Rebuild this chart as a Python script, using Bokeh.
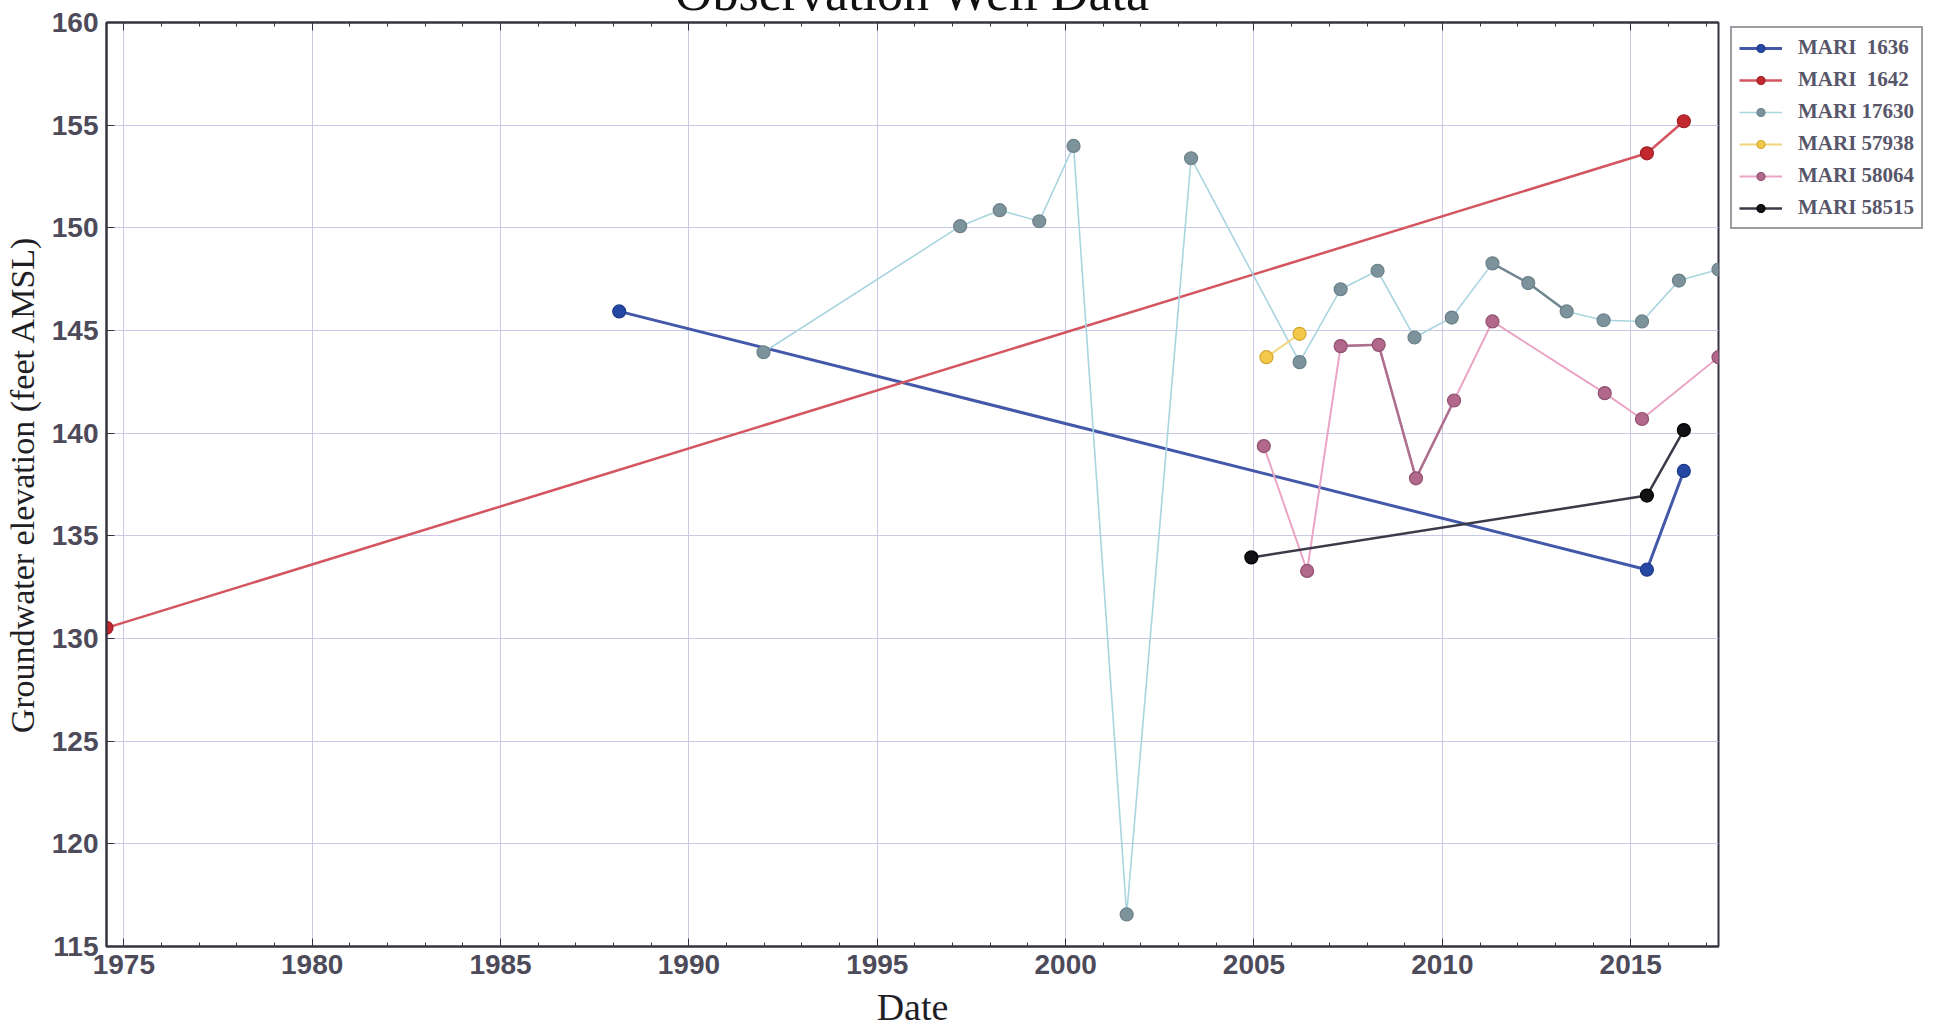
from bokeh.plotting import figure
from bokeh.models import (Range1d, FixedTicker, LinearAxis, Legend, LegendItem, Div,
                          CustomJSTickFormatter)
from bokeh.layouts import column
from bokeh.embed import file_html
from bokeh.resources import INLINE

# ---- data (decimal year, feet AMSL) ----
x_1636 = [1988.15, 2015.43, 2016.41]
y_1636 = [145.93, 133.35, 138.16]

x_1642 = [1974.54, 2015.43, 2016.41]
y_1642 = [130.52, 153.63, 155.19]

x_17630 = [1991.98, 1997.20, 1998.25, 1999.30, 2000.21, 2001.62, 2003.33, 2006.21,
           2007.30, 2008.28, 2009.26, 2010.25, 2011.33, 2012.28, 2013.30, 2014.28,
           2015.30, 2016.28, 2017.33]
y_17630 = [143.94, 150.08, 150.86, 150.32, 153.99, 116.56, 153.39, 143.46,
           147.01, 147.91, 144.66, 145.63, 148.27, 147.31, 145.93, 145.50,
           145.44, 147.43, 147.97]

x_57938 = [2005.33, 2006.21]
y_57938 = [143.70, 144.84]

x_58064 = [2005.26, 2006.41, 2007.30, 2008.31, 2009.30, 2010.31, 2011.33, 2014.31, 2015.30, 2017.33]
y_58064 = [139.37, 133.29, 144.24, 144.30, 137.80, 141.59, 145.44, 141.95, 140.69, 143.70]

x_58515 = [2004.93, 2015.43, 2016.41]
y_58515 = [133.95, 136.96, 140.15]

title_text = "Observation Well Data"
labels = ["MARI  1636", "MARI  1642", "MARI 17630", "MARI 57938", "MARI 58064", "MARI 58515"]
x_ticks = [1975, 1980, 1985, 1990, 1995, 2000, 2005, 2010, 2015]
x_minor = list(range(1975, 2018))
y_ticks = [115, 120, 125, 130, 135, 140, 145, 150, 155, 160]

X_MIN, X_MAX = 1974.54, 2017.33
Y_MIN, Y_MAX = 115, 160

FRAME_W, FRAME_H = 1612, 924

# ---- figure ----
p = figure(frame_width=FRAME_W, frame_height=FRAME_H, output_backend="svg", toolbar_location=None,
           x_range=Range1d(X_MIN, X_MAX), y_range=Range1d(Y_MIN, Y_MAX),
           min_border_left=101, min_border_top=11, min_border_bottom=76, min_border_right=206)
p.background_fill_color = "white"
p.border_fill_color = "white"
p.border_fill_alpha = 0.0
p.outline_line_color = "#34323f"
p.outline_line_width = 2

tick_color = "#4d4a5a"
axis_color = "#34323f"

for ax in (p.xaxis[0], p.yaxis[0]):
    ax.axis_line_color = axis_color
    ax.axis_line_width = 2
    ax.major_tick_in = 8
    ax.major_tick_out = 0
    ax.minor_tick_in = 4
    ax.minor_tick_out = 0
    ax.major_tick_line_color = axis_color
    ax.minor_tick_line_color = axis_color
    ax.major_label_text_font = "Liberation Sans"
    ax.major_label_text_font_style = "bold"
    ax.major_label_text_font_size = "28px"
    ax.major_label_text_color = tick_color
    ax.axis_label_text_font = "Liberation Serif"
    ax.axis_label_text_font_style = "normal"
    ax.axis_label_text_color = "#1e1e24"

p.xaxis[0].ticker = FixedTicker(ticks=x_ticks, minor_ticks=x_minor)
p.yaxis[0].ticker = FixedTicker(ticks=y_ticks, minor_ticks=[])
p.xaxis[0].axis_label = "Date"
p.xaxis[0].axis_label_text_font_size = "38px"
p.xaxis[0].major_label_standoff = 8
p.xaxis[0].axis_label_standoff = 9
p.yaxis[0].axis_label = "Groundwater elevation (feet AMSL)"
p.yaxis[0].axis_label_text_font_size = "34px"
p.yaxis[0].major_label_standoff = 8
p.yaxis[0].axis_label_standoff = 8

blank = CustomJSTickFormatter(code="return '';")
top_ax = LinearAxis(ticker=FixedTicker(ticks=x_ticks, minor_ticks=x_minor),
                    formatter=blank, major_label_standoff=0, axis_label_standoff=0,
                    major_label_text_font_size="1px",
                    axis_line_color=axis_color, axis_line_width=2,
                    major_tick_in=8, major_tick_out=0, minor_tick_in=4, minor_tick_out=0,
                    major_tick_line_color=axis_color, minor_tick_line_color=axis_color)
p.add_layout(top_ax, "above")

p.xgrid.ticker = FixedTicker(ticks=x_ticks)
p.ygrid.ticker = FixedTicker(ticks=y_ticks)
p.grid.grid_line_color = "#c9c9e6"
p.grid.grid_line_width = 1

# ---- series ----
series = [
    (x_1636, y_1636, "#4358a8", 3.0, "#2549a2", "#1c3a88"),
    (x_1642, y_1642, "#d4545f", 2.5, "#c2292e", "#9e1f24"),
    (x_17630, y_17630, "#a9d5df", 1.6, "#7c939c", "#6b8089"),
    (x_57938, y_57938, "#f4d67a", 2.0, "#f3c94a", "#d2a631"),
    (x_58064, y_58064, "#eaa5c6", 2.0, "#b2688b", "#8f5070"),
    (x_58515, y_58515, "#3b3a48", 2.5, "#121214", "#000000"),
]

line_renderers = []
for (xs, ys, lc, lw, fc, ec) in series:
    line_renderers.append(p.line(xs, ys, line_color=lc, line_width=lw))

# darker overlay segments seen on the scanned chart
seg_17630 = [12, 13]
p.segment(x0=[x_17630[i] for i in seg_17630], y0=[y_17630[i] for i in seg_17630],
          x1=[x_17630[i + 1] for i in seg_17630], y1=[y_17630[i + 1] for i in seg_17630],
          line_color="#71878f", line_width=2.5)
seg_58064 = [2, 3, 4]
p.segment(x0=[x_58064[i] for i in seg_58064], y0=[y_58064[i] for i in seg_58064],
          x1=[x_58064[i + 1] for i in seg_58064], y1=[y_58064[i + 1] for i in seg_58064],
          line_color="#ad6f8e", line_width=2.5)

legend_items = []
for (xs, ys, lc, lw, fc, ec), lab, r_line in zip(series, labels, line_renderers):
    r_pts = p.scatter(xs, ys, size=13, fill_color=fc, line_color=ec, line_width=1.2)
    legend_items.append(LegendItem(label=lab, renderers=[r_line, r_pts]))

LEG_H = 201
legend = Legend(items=legend_items, location=(12, FRAME_H - 6 - LEG_H), margin=0,
                label_text_font="Liberation Serif", label_text_font_style="bold",
                label_text_font_size="21px", label_text_color="#58566a",
                glyph_width=43, glyph_height=20, label_height=20, label_standoff=16, spacing=7,
                padding=7, border_line_color="#3c3a48", border_line_width=2,
                background_fill_color="white", background_fill_alpha=1.0)
p.add_layout(legend, "right")

# title: only its lower part shows at the very top of the page, as in the scanned original
title_html = (
    '<div style="position:absolute;left:101px;width:%dpx;top:-37px;text-align:center;'
    "font-family:'Liberation Serif';font-size:52px;line-height:50px;color:#111111;"
    'white-space:nowrap;">%s</div>' % (FRAME_W, title_text)
)
title_div = Div(text=title_html, width=1921, height=1,
                styles={"overflow": "visible", "position": "relative"})

layout = column(title_div, p, spacing=0)
open("out.html", "w").write(file_html(layout, INLINE))
